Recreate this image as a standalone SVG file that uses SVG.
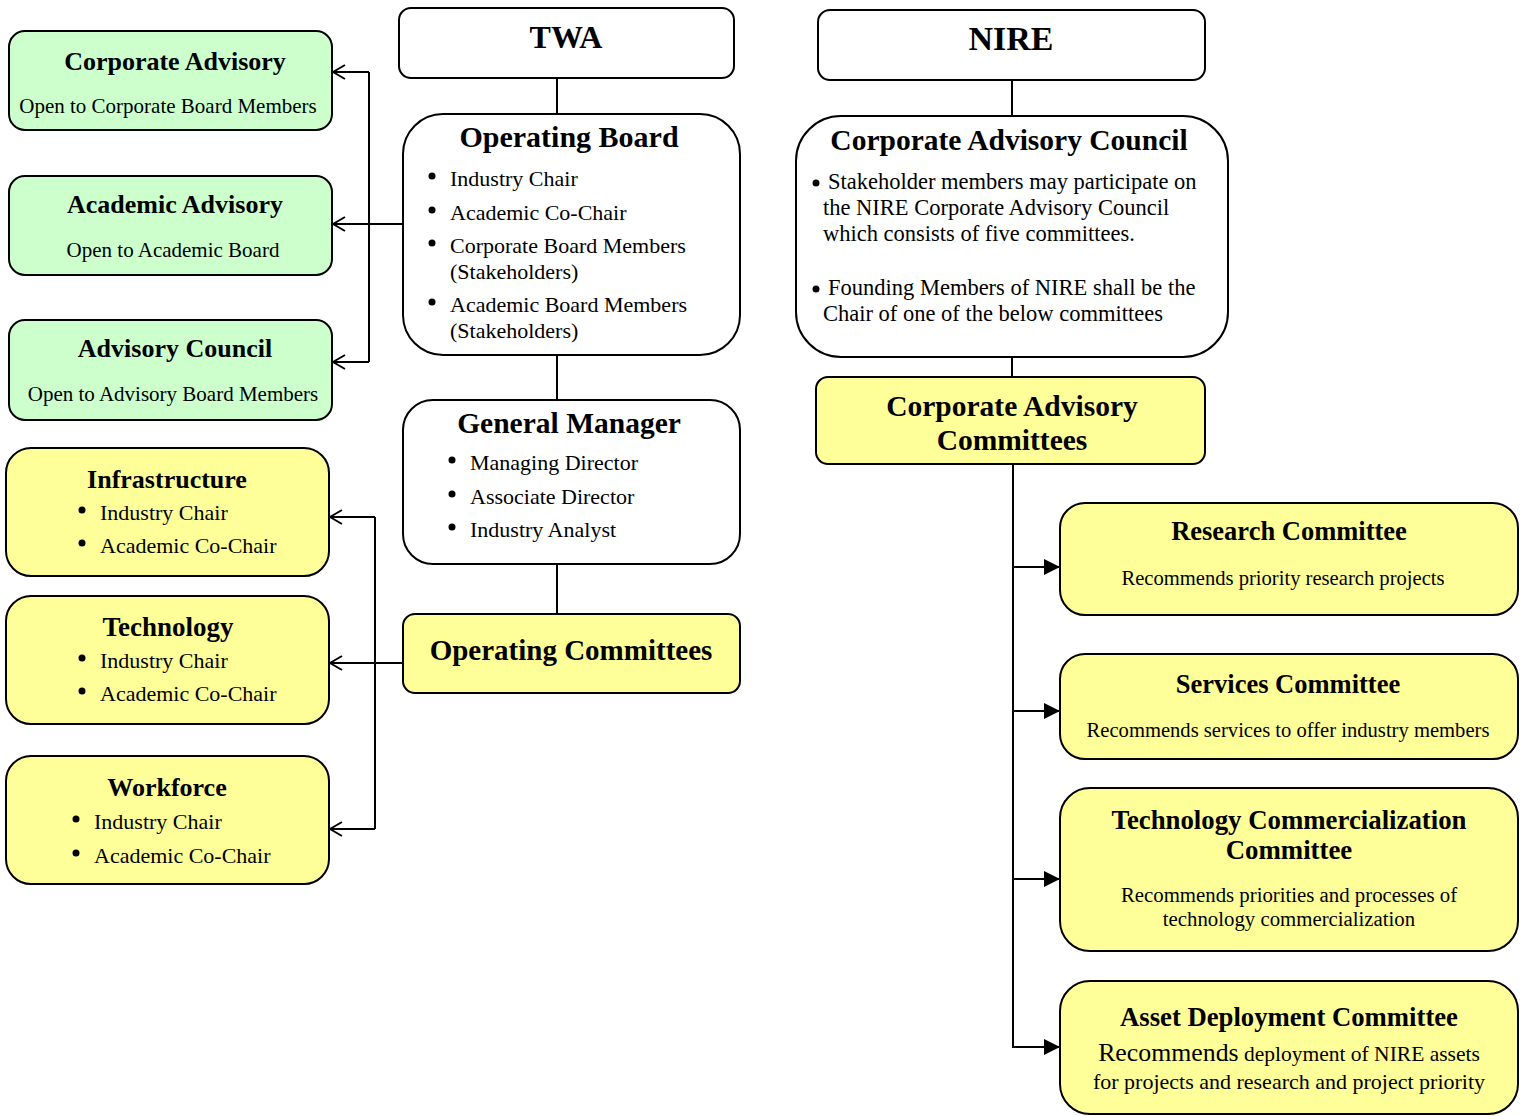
<svg xmlns="http://www.w3.org/2000/svg" width="1525" height="1116" viewBox="0 0 1525 1116">
<defs>
<style>
.box{stroke:#000;stroke-width:2}
.w{fill:#fff}.g{fill:#ccffcc}.y{fill:#ffff99}
.t{font-family:"Liberation Serif",serif;fill:#000}
.b{font-weight:bold}
.c{text-anchor:middle}
.ln{fill:none;stroke:#000;stroke-width:2}
.dot{fill:#000}
</style>
<marker id="open" viewBox="0 0 14 16" refX="13" refY="8" markerWidth="14" markerHeight="16" markerUnits="userSpaceOnUse" orient="auto">
<path d="M1,1 L13,8 L1,15" fill="none" stroke="#000" stroke-width="2"/>
</marker>
<marker id="fill" viewBox="0 0 16 16" refX="16" refY="8" markerWidth="16" markerHeight="16" markerUnits="userSpaceOnUse" orient="auto">
<path d="M0,0 L16,8 L0,16 Z" fill="#000"/>
</marker>
</defs>
<rect width="1525" height="1116" fill="#fff"/>

<g id="connectors">
<path class="ln" d="M557,78 V114 M557,355 V400 M557,564 V614"/>
<path class="ln" d="M403,224 H333" marker-end="url(#open)"/>
<path class="ln" d="M369,72 V362"/>
<path class="ln" d="M369,72 H333" marker-end="url(#open)"/>
<path class="ln" d="M369,362 H333" marker-end="url(#open)"/>
<path class="ln" d="M403,663 H330" marker-end="url(#open)"/>
<path class="ln" d="M375,517 V829"/>
<path class="ln" d="M375,517 H330" marker-end="url(#open)"/>
<path class="ln" d="M375,829 H330" marker-end="url(#open)"/>
<path class="ln" d="M1012,80 V116 M1012,357 V377 M1013,464 V1048"/>
<path class="ln" d="M1013,567 H1060" marker-end="url(#fill)"/>
<path class="ln" d="M1013,711 H1060" marker-end="url(#fill)"/>
<path class="ln" d="M1013,879 H1060" marker-end="url(#fill)"/>
<path class="ln" d="M1013,1047 H1060" marker-end="url(#fill)"/>
</g>

<g id="corporate-advisory">
<rect class="box g" x="9" y="31" width="323" height="99" rx="16"/>
<text class="t b c" x="175" y="70" font-size="26">Corporate Advisory</text>
<text class="t c" x="168" y="113" font-size="21">Open to Corporate Board Members</text>
</g>
<g id="academic-advisory">
<rect class="box g" x="9" y="176" width="323" height="99" rx="16"/>
<text class="t b c" x="175" y="213" font-size="26">Academic Advisory</text>
<text class="t c" x="173" y="257" font-size="21">Open to Academic Board</text>
</g>
<g id="advisory-council">
<rect class="box g" x="9" y="320" width="323" height="100" rx="16"/>
<text class="t b c" x="175" y="357" font-size="26">Advisory Council</text>
<text class="t c" x="173" y="401" font-size="21">Open to Advisory Board Members</text>
</g>

<g id="twa">
<rect class="box w" x="399" y="8" width="335" height="70" rx="12"/>
<text class="t b c" x="566" y="48" font-size="32">TWA</text>
</g>
<g id="operating-board">
<rect class="box w" x="403" y="114" width="337" height="241" rx="40"/>
<text class="t b c" x="569" y="147" font-size="30">Operating Board</text>
<circle class="dot" cx="432" cy="176" r="3.5"/>
<text class="t" x="450" y="186" font-size="22">Industry Chair</text>
<circle class="dot" cx="432" cy="210" r="3.5"/>
<text class="t" x="450" y="220" font-size="22">Academic Co-Chair</text>
<circle class="dot" cx="432" cy="243" r="3.5"/>
<text class="t" x="450" y="253" font-size="22">Corporate Board Members</text>
<text class="t" x="450" y="279" font-size="22">(Stakeholders)</text>
<circle class="dot" cx="432" cy="302" r="3.5"/>
<text class="t" x="450" y="312" font-size="22">Academic Board Members</text>
<text class="t" x="450" y="338" font-size="22">(Stakeholders)</text>
</g>
<g id="general-manager">
<rect class="box w" x="403" y="400" width="337" height="164" rx="30"/>
<text class="t b c" x="569" y="433" font-size="29.5">General Manager</text>
<circle class="dot" cx="452" cy="460" r="3.5"/>
<text class="t" x="470" y="470" font-size="22">Managing Director</text>
<circle class="dot" cx="452" cy="494" r="3.5"/>
<text class="t" x="470" y="504" font-size="22">Associate Director</text>
<circle class="dot" cx="452" cy="527" r="3.5"/>
<text class="t" x="470" y="537" font-size="22">Industry Analyst</text>
</g>
<g id="operating-committees">
<rect class="box y" x="403" y="614" width="337" height="79" rx="12"/>
<text class="t b c" x="571" y="660" font-size="29">Operating Committees</text>
</g>

<g id="infrastructure">
<rect class="box y" x="6" y="448" width="323" height="128" rx="25"/>
<text class="t b c" x="167" y="488" font-size="26">Infrastructure</text>
<circle class="dot" cx="82" cy="510" r="3.5"/>
<text class="t" x="100" y="520" font-size="22">Industry Chair</text>
<circle class="dot" cx="82" cy="543" r="3.5"/>
<text class="t" x="100" y="553" font-size="22">Academic Co-Chair</text>
</g>
<g id="technology">
<rect class="box y" x="6" y="596" width="323" height="128" rx="25"/>
<text class="t b c" x="168" y="636" font-size="27">Technology</text>
<circle class="dot" cx="82" cy="658" r="3.5"/>
<text class="t" x="100" y="668" font-size="22">Industry Chair</text>
<circle class="dot" cx="82" cy="691" r="3.5"/>
<text class="t" x="100" y="701" font-size="22">Academic Co-Chair</text>
</g>
<g id="workforce">
<rect class="box y" x="6" y="756" width="323" height="128" rx="25"/>
<text class="t b c" x="167" y="796" font-size="26">Workforce</text>
<circle class="dot" cx="76" cy="819" r="3.5"/>
<text class="t" x="94" y="829" font-size="22">Industry Chair</text>
<circle class="dot" cx="76" cy="853" r="3.5"/>
<text class="t" x="94" y="863" font-size="22">Academic Co-Chair</text>
</g>

<g id="nire">
<rect class="box w" x="818" y="10" width="387" height="70" rx="12"/>
<text class="t b c" x="1011" y="50" font-size="34">NIRE</text>
</g>
<g id="corporate-advisory-council">
<rect class="box w" x="796" y="116" width="432" height="241" rx="45"/>
<text class="t b c" x="1009" y="150" font-size="29.5">Corporate Advisory Council</text>
<circle class="dot" cx="816" cy="183" r="3.5"/>
<text class="t" x="828" y="189" font-size="22.5">Stakeholder members may participate on</text>
<text class="t" x="823" y="215" font-size="22.5">the NIRE Corporate Advisory Council</text>
<text class="t" x="823" y="241" font-size="22.5">which consists of five committees.</text>
<circle class="dot" cx="816" cy="289" r="3.5"/>
<text class="t" x="828" y="295" font-size="22.5">Founding Members of NIRE shall be the</text>
<text class="t" x="823" y="321" font-size="22.5">Chair of one of the below committees</text>
</g>
<g id="corporate-advisory-committees">
<rect class="box y" x="816" y="377" width="389" height="87" rx="12"/>
<text class="t b c" x="1012" y="416" font-size="29.5">Corporate Advisory</text>
<text class="t b c" x="1012" y="450" font-size="29.5">Committees</text>
</g>

<g id="research-committee">
<rect class="box y" x="1060" y="503" width="458" height="112" rx="25"/>
<text class="t b c" x="1289" y="540" font-size="26.5">Research Committee</text>
<text class="t c" x="1283" y="585" font-size="20.6">Recommends priority research projects</text>
</g>
<g id="services-committee">
<rect class="box y" x="1060" y="654" width="458" height="105" rx="25"/>
<text class="t b c" x="1288" y="693" font-size="26.5">Services Committee</text>
<text class="t c" x="1288" y="737" font-size="20.6">Recommends services to offer industry members</text>
</g>
<g id="technology-commercialization-committee">
<rect class="box y" x="1060" y="788" width="458" height="163" rx="30"/>
<text class="t b c" x="1289" y="829" font-size="26.8">Technology Commercialization</text>
<text class="t b c" x="1289" y="859" font-size="26.8">Committee</text>
<text class="t c" x="1289" y="902" font-size="20.8">Recommends priorities and processes of</text>
<text class="t c" x="1289" y="926" font-size="20.8">technology commercialization</text>
</g>
<g id="asset-deployment-committee">
<rect class="box y" x="1060" y="981" width="458" height="133" rx="30"/>
<text class="t b c" x="1289" y="1026" font-size="26.7">Asset Deployment Committee</text>
<text class="t c" x="1289" y="1061" font-size="21.5"><tspan font-size="25.8">Recommends</tspan> deployment of NIRE assets</text>
<text class="t c" x="1289" y="1089" font-size="22">for projects and research and project priority</text>
</g>
</svg>
